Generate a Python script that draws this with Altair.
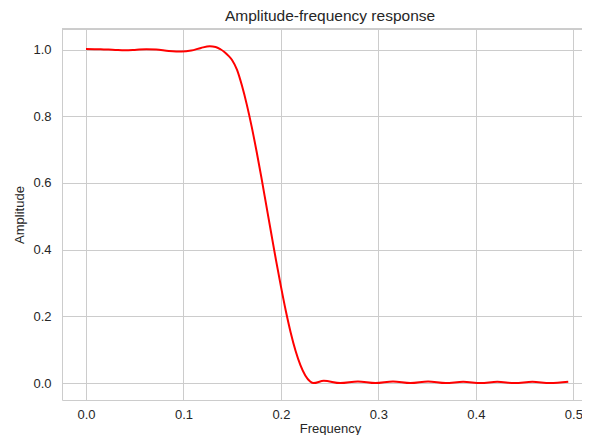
import altair as alt
import pandas as pd

# Frequency values (normalized) and amplitude
freq = [0.000, 0.015, 0.030, 0.040, 0.050, 0.062, 0.072, 0.085, 0.098, 0.108,
        0.118, 0.127, 0.133, 0.138, 0.142, 0.146, 0.150, 0.155, 0.160, 0.165,
        0.170, 0.175, 0.180, 0.185, 0.190, 0.195, 0.200, 0.205, 0.210, 0.215,
        0.220, 0.225, 0.230, 0.2335, 0.244, 0.261, 0.279, 0.297, 0.315, 0.333,
        0.351, 0.369, 0.387, 0.405, 0.422, 0.440, 0.458, 0.476, 0.4948]
amp = [1.002, 1.001, 0.999, 0.998, 0.999, 1.001, 1.000, 0.996, 0.994, 0.997,
       1.005, 1.010, 1.008, 1.001, 0.993, 0.982, 0.968, 0.939, 0.892, 0.835,
       0.769, 0.695, 0.616, 0.533, 0.450, 0.368, 0.290, 0.217, 0.152, 0.097,
       0.054, 0.023, 0.005, 0.000, 0.007, 0.000, 0.005, 0.000, 0.005, 0.000,
       0.005, 0.000, 0.004, 0.000, 0.004, 0.000, 0.004, 0.000, 0.004]

x_ticks = [0.0, 0.1, 0.2, 0.3, 0.4, 0.5]
y_ticks = [0.0, 0.2, 0.4, 0.6, 0.8, 1.0]

df = pd.DataFrame({"Frequency": freq, "Amplitude": amp})

FONT = "Liberation Sans"
TXT = "#262626"
GRID = "#cccccc"
W, H = 520, 371

line = alt.Chart(df).mark_line(color="#ff0000", strokeWidth=2, interpolate="monotone").encode(
    x=alt.X("Frequency:Q",
            scale=alt.Scale(domain=[-0.0246, 0.5089], nice=False, zero=False),
            axis=alt.Axis(values=x_ticks, format=".1f", title="Frequency",
                          titleX=268, titleY=32, titleBaseline="alphabetic",
                          labelPadding=8)),
    y=alt.Y("Amplitude:Q",
            scale=alt.Scale(domain=[-0.0506, 1.0617], nice=False, zero=False),
            axis=alt.Axis(values=y_ticks, format=".1f", title="Amplitude",
                          labelPadding=11, titleX=-39, titleY=185.5,
                          titleBaseline="alphabetic")),
)

top_frame = alt.Chart(df).mark_rule(color=GRID, strokeWidth=1).encode(
    x=alt.value(0), x2=alt.value(W), y=alt.value(0)
)

chart = alt.layer(top_frame, line).properties(
    width=W, height=H,
    title=alt.TitleParams("Amplitude-frequency response", fontSize=15.5, font=FONT,
                          fontWeight="normal", color=TXT, offset=4, dx=8),
    autosize=alt.AutoSizeParams(type="none"),
    padding={"left": 54, "top": 21, "right": 0, "bottom": 35},
).configure_view(stroke=None).configure_axis(
    grid=True, gridColor=GRID, gridWidth=1,
    domain=True, domainColor=GRID, domainWidth=1,
    ticks=False,
    labelFont=FONT, labelFontSize=13, labelColor=TXT,
    titleFont=FONT, titleFontSize=13, titleColor=TXT, titleFontWeight="normal",
)

chart.save("out.html", embed_options={"renderer": "svg", "actions": False})
